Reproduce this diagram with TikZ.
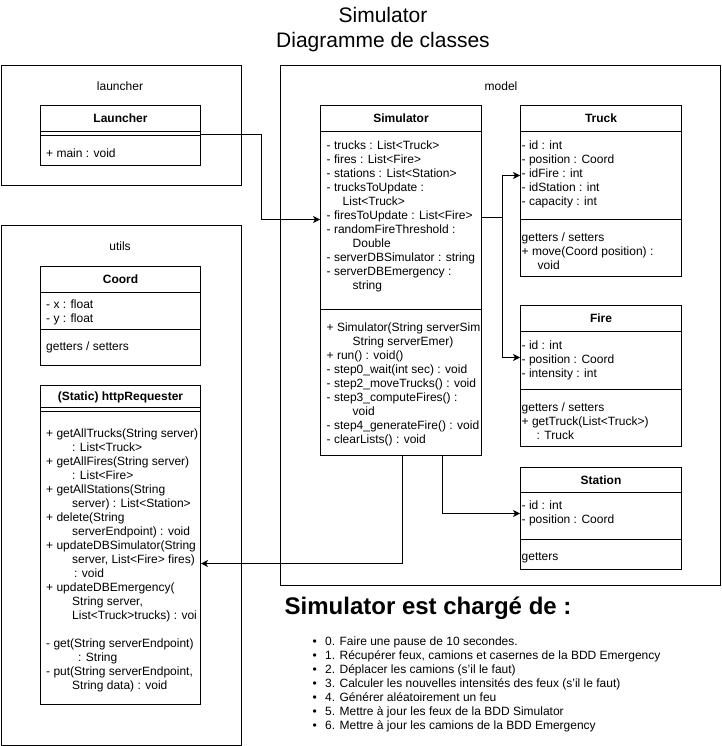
\documentclass[tikz,border=0pt]{standalone}
\usepackage{fontspec}
\setmainfont{Liberation Sans}
\usetikzlibrary{arrows.meta}
\begin{document}
\begin{tikzpicture}[x=1pt,y=-1pt,
  box/.style={draw=black, line width=1pt, rectangle, inner sep=0pt, anchor=north west},
  hdr/.style={box, font=\fontsize{12}{14}\selectfont\bfseries, text height=8.6pt, text depth=0pt},
  pkglabel/.style={inner sep=0pt, font=\fontsize{12}{14}\selectfont, text height=8.6pt, text depth=0pt},
  txt/.style={anchor=north west, inner sep=0pt, align=left, font=\fontsize{12}{14}\selectfont},
  arr/.style={draw=black, line width=1pt, -{Stealth[length=7pt, width=7pt, inset=2pt]}},
  conn/.style={draw=black, line width=1pt}]
\useasboundingbox (0,0) rectangle (721,746);
\fill[white] (0,0) rectangle (721,746);

% titles
\node[inner sep=0pt, font=\fontsize{21}{25}\selectfont, text height=15pt, text depth=0pt] (title1) at (383,15) {Simulator};
\node[inner sep=0pt, font=\fontsize{21}{25}\selectfont, text height=15pt, text depth=0pt] (title2) at (383,40) {Diagramme de classes};

% packages
\node[box, minimum width=240.5pt, minimum height=120pt] (launcherPkg) at (0.5,65) {};
\node[pkglabel] (launcherLbl) at (120,86) {launcher};
\node[box, minimum width=240.5pt, minimum height=520pt] (utilsPkg) at (0.5,225) {};
\node[pkglabel] (utilsLbl) at (120,246) {utils};
\node[box, minimum width=440pt, minimum height=520pt] (modelPkg) at (280,65) {};
\node[pkglabel] (modelLbl) at (501,86) {model};

% Launcher
\node[hdr, minimum width=160pt, minimum height=26pt] (launH) at (40,105) {Launcher};
\node[box, minimum width=160pt, minimum height=4pt] (launA) at (40,131) {};
\node[box, minimum width=160pt, minimum height=30pt] (launM) at (40,135) {};
\node[txt] (launMt) at (46,147.5) {\strut+ main : void};

% Coord
\node[hdr, minimum width=160pt, minimum height=26pt] (coordH) at (40,266) {Coord};
\node[box, minimum width=160pt, minimum height=37pt] (coordA) at (40,292) {};
\node[box, minimum width=160pt, minimum height=36pt] (coordM) at (40,329) {};
\node[txt] (coordAt) at (46,298.5) {\strut- x : float\\- y : float};
\node[txt] (coordMt) at (46,340.5) {\strut getters / setters};

% httpRequester
\node[hdr, minimum width=160pt, minimum height=22pt] (httpH) at (40,385) {(Static) httpRequester};
\node[box, minimum width=160pt, minimum height=4pt] (httpA) at (40,407) {};
\node[box, minimum width=160pt, minimum height=293pt] (httpM) at (40,411) {};
\node[txt] (httpMt) at (46,427.5) {\strut+ getAllTrucks(String server)\\
\hspace*{26pt}: List<Truck>\\
+ getAllFires(String server)\\
\hspace*{26pt}: List<Fire>\\
+ getAllStations(String\\
\hspace*{26pt}server) : List<Station>\\
+ delete(String\\
\hspace*{26pt}serverEndpoint) : void\\
+ updateDBSimulator(String\\
\hspace*{26pt}server, List<Fire> fires)\\
\hspace*{28pt}: void\\
+ updateDBEmergency(\\
\hspace*{26pt}String server,\\
\hspace*{26pt}List<Truck>trucks) : voi\\
\strut\\
- get(String serverEndpoint)\\
\hspace*{32pt}: String\\
- put(String serverEndpoint,\\
\hspace*{26pt}String data) : void};

% Simulator
\node[hdr, minimum width=161pt, minimum height=26pt] (simH) at (320,105) {Simulator};
\node[box, minimum width=161pt, minimum height=178pt] (simA) at (320,131) {};
\node[box, minimum width=161pt, minimum height=146pt] (simM) at (320,309) {};
\node[txt] (simAt) at (326.5,139.5) {\strut- trucks : List<Truck>\\
- fires : List<Fire>\\
- stations : List<Station>\\
- trucksToUpdate :\\
\hspace*{16pt}List<Truck>\\
- firesToUpdate : List<Fire>\\
- randomFireThreshold :\\
\hspace*{26pt}Double\\
- serverDBSimulator : string\\
- serverDBEmergency :\\
\hspace*{26pt}string};
\node[txt] (simMt) at (326.5,321.5) {\strut+ Simulator(String serverSim\\
\hspace*{26pt}String serverEmer)\\
+ run() : void()\\
- step0\_wait(int sec) : void\\
- step2\_moveTrucks() : void\\
- step3\_computeFires() :\\
\hspace*{26pt}void\\
- step4\_generateFire() : void\\
- clearLists() : void};

% Truck
\node[hdr, minimum width=161pt, minimum height=26pt] (truckH) at (520,105) {Truck};
\node[box, minimum width=161pt, minimum height=88pt] (truckA) at (520,131) {};
\node[box, minimum width=161pt, minimum height=57pt] (truckM) at (520,219) {};
\node[txt] (truckAt) at (521.5,139.5) {\strut- id : int\\
- position : Coord\\
- idFire : int\\
- idStation : int\\
- capacity : int};
\node[txt] (truckMt) at (521.5,231.5) {\strut getters / setters\\
+ move(Coord position) :\\
\hspace*{16pt}void};

% Fire
\node[hdr, minimum width=161pt, minimum height=26pt] (fireH) at (520,305) {Fire};
\node[box, minimum width=161pt, minimum height=58pt] (fireA) at (520,331) {};
\node[box, minimum width=161pt, minimum height=57pt] (fireM) at (520,389) {};
\node[txt] (fireAt) at (521.5,339.5) {\strut- id : int\\
- position : Coord\\
- intensity : int};
\node[txt] (fireMt) at (521.5,401.5) {\strut getters / setters\\
+ getTruck(List<Truck>)\\
\hspace*{15pt}: Truck};

% Station
\node[hdr, minimum width=161pt, minimum height=25pt] (stationH) at (520,467) {Station};
\node[box, minimum width=161pt, minimum height=47pt] (stationA) at (520,492) {};
\node[box, minimum width=161pt, minimum height=30pt] (stationM) at (520,539) {};
\node[txt] (stationAt) at (521.5,499.5) {\strut- id : int\\
- position : Coord};
\node[txt] (stationMt) at (521.5,550.5) {\strut getters};

% connectors
\draw[arr] (launM.north east) -- ++(60,0) |- ([yshift=1pt]simA.west);
\draw[conn] ([yshift=3pt]simA.east) -- ++(20,0) coordinate (split);
\draw[arr] (split) |- (truckA.west);
\draw[arr] (split) |- ([yshift=3pt]fireA.west);
\draw[arr] ([xshift=-40pt]simM.south east) |- ([yshift=2.5pt]stationA.west);
\draw[arr] ([xshift=-80pt]simM.south east) |- ([yshift=-5.5pt]httpM.east);

% description
\node[anchor=west, inner sep=0pt, font=\fontsize{24}{28}\selectfont\bfseries, text height=17.2pt, text depth=0pt] (descH) at (284.5,606) {Simulator est chargé de :};
\node[txt] (descL) at (312.5,635.5) {\strut\makebox[12.5pt][l]{•}0. Faire une pause de 10 secondes.\\
\makebox[12.5pt][l]{•}1. Récupérer feux, camions et casernes de la BDD Emergency\\
\makebox[12.5pt][l]{•}2. Déplacer les camions (s'il le faut)\\
\makebox[12.5pt][l]{•}3. Calculer les nouvelles intensités des feux (s'il le faut)\\
\makebox[12.5pt][l]{•}4. Générer aléatoirement un feu\\
\makebox[12.5pt][l]{•}5. Mettre à jour les feux de la BDD Simulator\\
\makebox[12.5pt][l]{•}6. Mettre à jour les camions de la BDD Emergency};
\end{tikzpicture}
\end{document}
